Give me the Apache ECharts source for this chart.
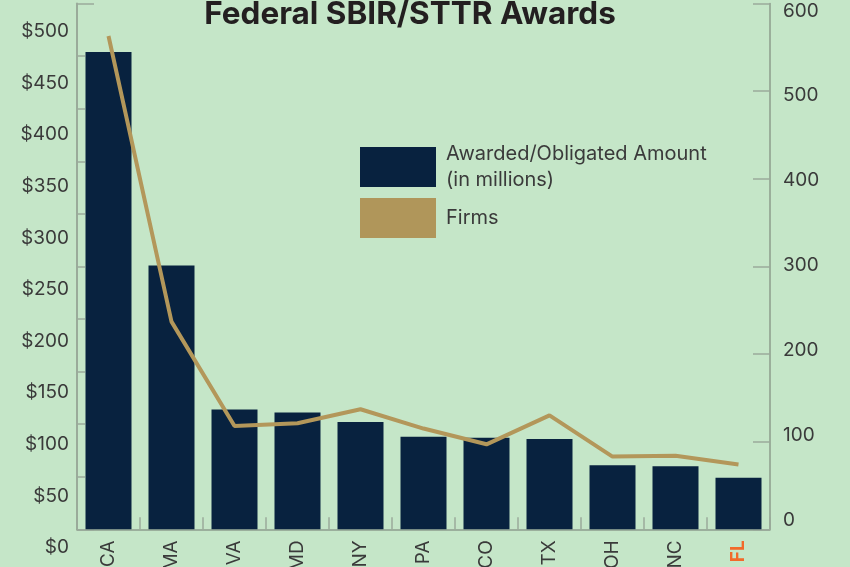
<!DOCTYPE html>
<html>
<head>
<meta charset="utf-8">
<script src="https://cdn.jsdelivr.net/npm/echarts@6/dist/echarts.min.js"></script>
<style>
html,body{margin:0;padding:0;background:#c5e6c8;}
#chart{width:850px;height:567px;}
</style>
</head>
<body>
<div id="chart"></div>
<script>
const categories = ['CA', 'MA', 'VA', 'MD', 'NY', 'PA', 'CO', 'TX', 'OH', 'NC', 'FL'];
const awardedMillions = [454, 251, 114, 111, 102, 88, 87, 86, 61, 60, 49];
const firms = [563, 237, 118, 121, 137, 115, 97, 130, 83, 84, 74];
const amountTicks = [0, 50, 100, 150, 200, 250, 300, 350, 400, 450, 500];
const firmTicks = [0, 100, 200, 300, 400, 500, 600];
const highlightState = 'FL';

const FONT = 'Inter, "Liberation Sans", Arial, sans-serif';
const axisGray = '#8d9d8d';
const tickGray = '#9aab9a';
const textGray = '#3a3a3a';

const chart = echarts.init(document.getElementById('chart'), null, {renderer: 'canvas'});
const option = {
  backgroundColor: '#c5e6c8',
  animation: false,
  textStyle: {fontFamily: FONT},
  title: {
    text: 'Federal SBIR/STTR Awards',
    left: 405,
    textAlign: 'center',
    top: -6,
    textStyle: {fontFamily: FONT, fontSize: 31.5, fontWeight: 'bold', color: '#231f20'}
  },
  legend: {
    orient: 'vertical',
    left: 360,
    top: 141,
    padding: 0,
    itemWidth: 76,
    itemHeight: 40,
    itemGap: 5,
    data: [
      {name: 'Awarded/Obligated Amount\n(in millions)', icon: 'rect'},
      {name: 'Firms', icon: 'rect'}
    ],
    textStyle: {fontFamily: FONT, fontSize: 20, color: textGray, lineHeight: 26, padding: [0, 0, 0, 5]}
  },
  grid: [
    {left: 77, right: 80, top: 3.6, bottom: 37.7, outerBoundsMode: 'none', containLabel: false},
    {left: 77, right: 80, top: 31.5, bottom: 19.5, outerBoundsMode: 'none', containLabel: false},
    {left: 77, right: 80, top: 10.8, bottom: 46.4, outerBoundsMode: 'none', containLabel: false}
  ],
  xAxis: [
    {
      gridIndex: 0,
      type: 'category',
      data: categories,
      axisLine: {show: true, lineStyle: {color: axisGray, width: 1.5}},
      axisTick: {show: true, inside: true, length: 12, lineStyle: {color: tickGray, width: 1.5}},
      axisLabel: {
        rotate: 90,
        margin: 11,
        fontFamily: FONT,
        fontSize: 19,
        color: textGray,
        formatter: function (v) { return v === highlightState ? '{hl|' + v + '}' : v; },
        rich: {hl: {fontFamily: FONT, fontSize: 19, fontWeight: 'bold', color: '#f26a2a'}}
      }
    },
    {gridIndex: 1, type: 'category', data: categories, show: false},
    {gridIndex: 2, type: 'category', data: categories, show: false}
  ],
  yAxis: [
    {
      gridIndex: 0, type: 'value', position: 'left',
      min: amountTicks[0], max: amountTicks[amountTicks.length - 1], interval: 50,
      axisLine: {show: true, lineStyle: {color: tickGray, width: 2}},
      axisTick: {show: true, inside: true, length: 8, lineStyle: {color: tickGray, width: 1.5}},
      axisLabel: {show: false},
      splitLine: {show: false}
    },
    {
      gridIndex: 0, type: 'value', position: 'right',
      min: firmTicks[0], max: firmTicks[firmTicks.length - 1], interval: 100,
      axisLine: {show: true, lineStyle: {color: axisGray, width: 1.5}},
      axisTick: {show: true, inside: true, length: 17, lineStyle: {color: tickGray, width: 1.5}},
      axisLabel: {show: false},
      splitLine: {show: false}
    },
    {
      gridIndex: 0, type: 'value', position: 'left',
      min: 0, max: 500, interval: 500,
      axisLine: {show: false},
      axisTick: {show: true, inside: true, length: 17, lineStyle: {color: tickGray, width: 1.5}},
      axisLabel: {show: false},
      splitLine: {show: false}
    },
    {
      gridIndex: 1, type: 'value', position: 'left',
      min: amountTicks[0], max: amountTicks[amountTicks.length - 1], interval: 50,
      axisLine: {show: false}, axisTick: {show: false}, splitLine: {show: false},
      axisLabel: {margin: 8, fontFamily: FONT, fontSize: 19, color: textGray,
        formatter: function (v) { return '$' + v; }}
    },
    {
      gridIndex: 2, type: 'value', position: 'right',
      min: firmTicks[0], max: firmTicks[firmTicks.length - 1], interval: 100,
      axisLine: {show: false}, axisTick: {show: false}, splitLine: {show: false},
      axisLabel: {margin: 13, fontFamily: FONT, fontSize: 19, color: textGray}
    }
  ],
  series: [
    {
      name: 'Awarded/Obligated Amount\n(in millions)',
      type: 'bar',
      xAxisIndex: 0, yAxisIndex: 0,
      data: awardedMillions,
      barWidth: 46,
      itemStyle: {color: '#08223f'},
      z: 2
    },
    {
      name: 'Firms',
      type: 'line',
      xAxisIndex: 0, yAxisIndex: 1,
      data: firms,
      symbol: 'none',
      lineStyle: {color: '#b3975a', width: 4},
      itemStyle: {color: '#b0965a'},
      z: 3
    }
  ]
};
chart.setOption(option);
</script>
</body>
</html>
